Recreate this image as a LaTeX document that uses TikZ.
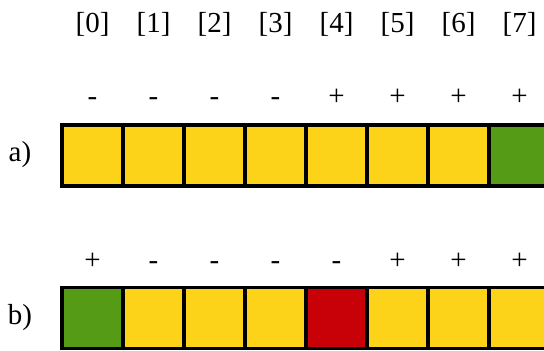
\documentclass[tikz,border=0pt]{standalone}
\usepackage{fontspec}
\setmainfont{Liberation Serif}
\usepackage{xcolor}
\usepackage{tikz}

\definecolor{cellyellow}{RGB}{253,211,26}
\definecolor{cellgreen}{RGB}{85,155,21}
\definecolor{cellred}{RGB}{200,0,8}

\begin{document}
\begin{tikzpicture}[x=1pt,y=-1pt,
  every node/.style={font=\fontsize{29}{35}\selectfont},
  cell/.style={rectangle,draw,line width=3.2pt,minimum size=61pt,
               inner sep=0pt,fill=cellyellow},
  sign/.style={inner sep=0pt,anchor=base},
  rowlabel/.style={inner sep=0pt}]
\useasboundingbox (0,0) rectangle (544,351);
\clip (0,0) rectangle (544,351);
% indices
\node (i0) at (92.5,24) {[0]};
\node (i1) at (153.5,24) {[1]};
\node (i2) at (214.5,24) {[2]};
\node (i3) at (275.5,24) {[3]};
\node (i4) at (336.5,24) {[4]};
\node (i5) at (397.5,24) {[5]};
\node (i6) at (458.5,24) {[6]};
\node (i7) at (519.5,24) {[7]};
\begin{scope}
  \node[rowlabel] (la) at (20,155) {a)};
  \node[sign] (sa0) at (92.5,105) {-};
  \node[sign] (sa1) at (153.5,105) {-};
  \node[sign] (sa2) at (214.5,105) {-};
  \node[sign] (sa3) at (275.5,105) {-};
  \node[sign] (sa4) at (336.5,105) {+};
  \node[sign] (sa5) at (397.5,105) {+};
  \node[sign] (sa6) at (458.5,105) {+};
  \node[sign] (sa7) at (519.5,105) {+};
  \node[cell] (a0) at (92.5,155.5) {};
  \node[cell] (a1) at (153.5,155.5) {};
  \node[cell] (a2) at (214.5,155.5) {};
  \node[cell] (a3) at (275.5,155.5) {};
  \node[cell] (a4) at (336.5,155.5) {};
  \node[cell] (a5) at (397.5,155.5) {};
  \node[cell] (a6) at (458.5,155.5) {};
  \node[cell,fill=cellgreen] (a7) at (519.5,155.5) {};
\end{scope}
\begin{scope}
  \node[rowlabel] (lb) at (20,318) {b)};
  \node[sign] (sb0) at (92.5,269) {+};
  \node[sign] (sb1) at (153.5,269) {-};
  \node[sign] (sb2) at (214.5,269) {-};
  \node[sign] (sb3) at (275.5,269) {-};
  \node[sign] (sb4) at (336.5,269) {-};
  \node[sign] (sb5) at (397.5,269) {+};
  \node[sign] (sb6) at (458.5,269) {+};
  \node[sign] (sb7) at (519.5,269) {+};
  \node[cell,fill=cellgreen] (b0) at (92.5,318) {};
  \node[cell] (b1) at (153.5,318) {};
  \node[cell] (b2) at (214.5,318) {};
  \node[cell] (b3) at (275.5,318) {};
  \node[cell,fill=cellred] (b4) at (336.5,318) {};
  \node[cell] (b5) at (397.5,318) {};
  \node[cell] (b6) at (458.5,318) {};
  \node[cell] (b7) at (519.5,318) {};
\end{scope}
\end{tikzpicture}
\end{document}
